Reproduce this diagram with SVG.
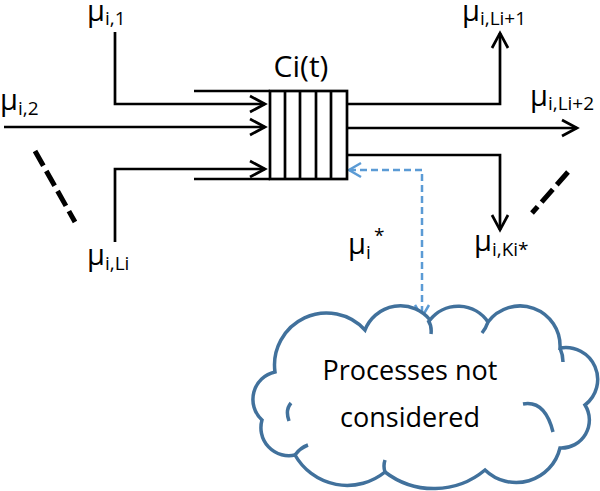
<svg xmlns="http://www.w3.org/2000/svg" width="600" height="491" viewBox="0 0 600 491">
<style>
.ln{fill:none;stroke:#000;stroke-width:2.7}
.blu{fill:none;stroke:#5B9BD5;stroke-width:2.5;stroke-dasharray:7 4}
.dsh{fill:none;stroke:#000;stroke-width:5;stroke-dasharray:17 6}
.t{font-family:"Open Sans","DejaVu Sans",sans-serif;fill:#000}
.mu{font-size:29px}
.sub{font-size:19px}
.cloud{fill:#fff;stroke:#41719C;stroke-width:3.5}
.ci{fill:none;stroke:#41719C;stroke-width:3.5}
</style>
<defs>
<marker id="ah" viewBox="-17 -11 20 22" markerWidth="20" markerHeight="22" refX="0" refY="0" orient="auto" markerUnits="userSpaceOnUse" overflow="visible">
<path d="M-15,-8 L0,0 L-15,8" fill="none" stroke="#000" stroke-width="2.7"/>
</marker>
<marker id="bh" viewBox="-15 -10 18 20" markerWidth="18" markerHeight="20" refX="0" refY="0" orient="auto-start-reverse" markerUnits="userSpaceOnUse" overflow="visible">
<path d="M-12,-7 L0,0 L-12,7" fill="none" stroke="#5B9BD5" stroke-width="2.5"/>
</marker>
</defs>
<rect width="600" height="491" fill="#fff"/>

<g id="connectors">
<path class="ln" d="M115,32 V104 H265" marker-end="url(#ah)"/>
<path class="ln" d="M4,127 H265" marker-end="url(#ah)"/>
<path class="ln" d="M115,242 V169 H265" marker-end="url(#ah)"/>
<path class="ln" d="M347,104 H500 V33" marker-end="url(#ah)"/>
<path class="ln" d="M347,128 H577" marker-end="url(#ah)"/>
<path class="ln" d="M347,155 H500 V230" marker-end="url(#ah)"/>
<path class="blu" d="M349,170 H422 V317" marker-start="url(#bh)" marker-end="url(#bh)"/>
<line class="dsh" x1="35" y1="151" x2="75" y2="222"/>
<line class="dsh" x1="568" y1="172" x2="532" y2="213"/>
</g>

<g id="buffer">
<line class="ln" x1="194" y1="91" x2="270" y2="91"/>
<line class="ln" x1="194" y1="179" x2="270" y2="179"/>
<rect class="ln" x="270" y="91" width="77" height="88"/>
<line class="ln" x1="285" y1="91" x2="285" y2="179"/>
<line class="ln" x1="300" y1="91" x2="300" y2="179"/>
<line class="ln" x1="316" y1="91" x2="316" y2="179"/>
<line class="ln" x1="331" y1="91" x2="331" y2="179"/>
<text class="t" x="301" y="77" font-size="30" text-anchor="middle">Ci(t)</text>
</g>

<g id="cloud">
<path class="cloud" d="M275,372 A52,52 0 0 1 365,330 A38,38 0 0 1 430,320 A36,36 0 0 1 488,322 A40,40 0 0 1 560,348 A32,32 0 0 1 585,405 A28,28 0 0 1 560,448 A45,45 0 0 1 485,470 A80,80 0 0 1 385,472 A60,60 0 0 1 295,455 A28,28 0 0 1 262,420 A28,28 0 0 1 275,372 Z"/>
<path class="ci" d="M428,320 Q432,326 431,334 M488,322 Q486,328 482,333 M560,348 Q563,355 563,362 M523,404 Q545,400 553,432 M291,403 Q285,410 289,421 M295,455 Q300,448 308,445 M385,472 Q383,466 385,460"/>
<text class="t" x="410" y="380" font-size="27" text-anchor="middle">Processes not</text>
<text class="t" x="410" y="427" font-size="27" text-anchor="middle">considered</text>
</g>

<g id="labels">
<text class="t" x="87" y="21"><tspan class="mu">μ</tspan><tspan class="sub" y="25">i,1</tspan></text>
<text class="t" x="0" y="110"><tspan class="mu">μ</tspan><tspan class="sub" y="115">i,2</tspan></text>
<text class="t" x="87" y="265"><tspan class="mu">μ</tspan><tspan class="sub" y="270">i,Li</tspan></text>
<text class="t" x="462" y="21"><tspan class="mu">μ</tspan><tspan class="sub" y="25">i,Li+1</tspan></text>
<text class="t" x="530" y="106"><tspan class="mu">μ</tspan><tspan class="sub" y="110">i,Li+2</tspan></text>
<text class="t" x="474" y="251"><tspan class="mu">μ</tspan><tspan class="sub" y="256">i,Ki*</tspan></text>
<text class="t" x="348" y="254"><tspan class="mu">μ</tspan><tspan class="sub" y="259">i</tspan></text>
<text class="t sub" x="374" y="242">*</text>
</g>
</svg>
